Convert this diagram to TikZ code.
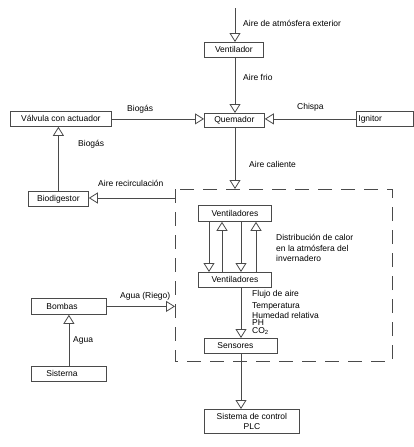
\documentclass[tikz,border=0pt]{standalone}
\usepackage{fontspec}
\setmainfont{Liberation Sans}
\usetikzlibrary{arrows.meta}
\definecolor{lc}{HTML}{4A4A4A}
\begin{document}
\begin{tikzpicture}[x=1pt,y=-1pt,
  font=\fontsize{8.5}{10}\selectfont,
  box/.style={draw=lc, line width=0.8pt, inner sep=0pt, anchor=north west},
  lbl/.style={anchor=west, inner sep=0pt},
  flow/.style={draw=lc, line width=0.8pt, -{Triangle[open,length=9pt,width=11pt]}},
  plain/.style={draw=lc, line width=0.8pt},
  zone/.style={draw=lc, line width=0.8pt, dash pattern=on 14pt off 9pt}]
\useasboundingbox (0,0) rectangle (414,447);
% boxes
\node[box, minimum width=59pt, minimum height=15pt] (vent) at (204,42) {Ventilador};
\node[box, minimum width=60pt, minimum height=14pt] (quem) at (204,113) {Quemador};
\node[box, minimum width=101pt, minimum height=15pt] (valv) at (10,111) {Válvula con actuador};
\node[box, minimum height=15pt, inner xsep=2pt, text width=53pt, align=left] (ign) at (356,111) {Ignitor};
\node[box, minimum width=60pt, minimum height=15pt] (biod) at (28,191) {Biodigestor};
\node[box, minimum width=73pt, minimum height=16pt] (vu) at (198,205) {Ventiladores};
\node[box, minimum width=73pt, minimum height=15pt] (vl) at (198,272) {Ventiladores};
\node[box, minimum height=16pt, inner xsep=15pt, text width=45pt, align=left] (bomb) at (31,298) {Bombas};
\node[box, minimum height=15pt, inner xsep=15pt, text width=45pt, align=left] (sist) at (31,366) {Sisterna};
\node[box, minimum height=15pt, inner xsep=13pt, text width=47pt, align=left] (sens) at (204,338) {Sensores};
\node[box, minimum width=95pt, minimum height=24pt, align=center] (plc) at (204,409) {Sistema de control\\PLC};
% coordinates
\coordinate (top) at (235,8);
\coordinate (dnw) at (175,189);
\coordinate (dse) at (392,361);
\coordinate (dtop) at (235,189);
\coordinate (dl) at (175,198);
\coordinate (a1) at (209,0);
\coordinate (a2) at (222,0);
\coordinate (a3) at (241,0);
\coordinate (a4) at (256,0);
% dashed zone
\draw[zone] (dnw) rectangle (dse);
% connectors
\draw[flow] (top) -- (top |- vent.north);
\draw[flow] (vent.south -| top) -- (quem.north -| top);
\draw[flow] (valv.east) -- (valv.east -| quem.west);
\draw[flow] (ign.west) -- (ign.west -| quem.east);
\draw[flow] (quem.south -| top) -- (dtop);
\draw[flow] (dl) -- (dl -| biod.east);
\draw[flow] (biod.north) -- (biod.north |- valv.south);
\draw[flow] (vu.south -| a1) -- (vl.north -| a1);
\draw[flow] (vl.north -| a2) -- (vu.south -| a2);
\draw[flow] (vu.south -| a3) -- (vl.north -| a3);
\draw[flow] (vl.north -| a4) -- (vu.south -| a4);
\draw[flow] (vl.south -| a3) -- (sens.north -| a3);
\draw[flow] (sens.south -| a3) -- (plc.north -| a3);
\draw[flow] (bomb.east) -- (bomb.east -| dnw);
\draw[flow] (sist.north) -- (bomb.south);
% labels
\node[lbl] (l1) at (243,23) {Aire de atmósfera exterior};
\node[lbl] (l2) at (243,77) {Aire frio};
\node[lbl] (l3) at (127,109) {Biogás};
\node[lbl] (l4) at (297,107) {Chispa};
\node[lbl] (l5) at (78,144) {Biogás};
\node[lbl] (l6) at (249,164) {Aire caliente};
\node[lbl] (l7) at (98,183) {Aire recirculación};
\node[lbl, align=left, font=\fontsize{8.5}{10.5}\selectfont] (l8) at (276,248) {Distribución de calor\\en la atmósfera del\\invernadero};
\node[lbl] (l9) at (120,296) {Agua (Riego)};
\node[lbl] (l10) at (73,340) {Agua};
\node[lbl] (l11) at (252,294) {Flujo de aire};
\node[lbl] (l12) at (252,306) {Temperatura};
\node[lbl] (l13) at (252,315) {Humedad relativa};
\node[lbl] (l14) at (252,322.5) {PH};
\node[lbl] (l15) at (252,331) {CO\textsubscript{2}};
\end{tikzpicture}
\end{document}
